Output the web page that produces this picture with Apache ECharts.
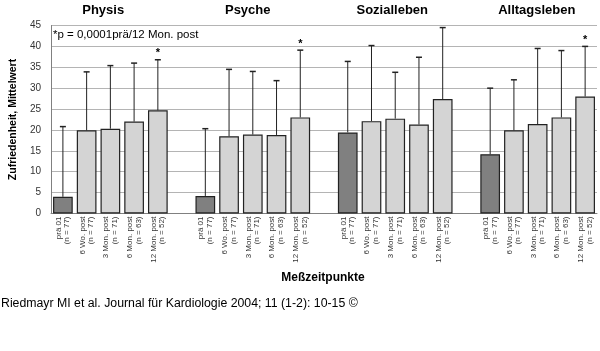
<!DOCTYPE html>
<html>
<head>
<meta charset="utf-8">
<script src="https://cdn.jsdelivr.net/npm/echarts@6/dist/echarts.min.js"></script>
<style>
  html, body { margin: 0; padding: 0; background: #fff; }
  #chart { width: 600px; height: 351px; }
</style>
</head>
<body>
<div id="chart"></div>
<script>
var groups = ['Physis', 'Psyche', 'Sozialleben', 'Alltagsleben'];
var timepoints = ['prä 01\n(n = 77)', '6 Wo. post\n(n = 77)', '3 Mon. post\n(n = 71)', '6 Mon. post\n(n = 63)', '12 Mon. post\n(n = 52)'];

// Mittelwerte je Gruppe
var physisMean = [4.0, 19.9, 20.3, 22.0, 24.7];
var psycheMean = [4.2, 18.5, 18.9, 18.8, 23.0];
var sozialMean = [19.4, 22.1, 22.7, 21.3, 27.4];
var alltagMean = [14.2, 19.9, 21.4, 23.0, 28.0];

// obere Fehlerbalken (Mittelwert + SD)
var physisTop = [20.8, 33.9, 35.4, 36.0, 36.8];
var psycheTop = [20.3, 34.5, 34.0, 31.8, 39.1];
var sozialTop = [36.4, 40.2, 33.8, 37.4, 44.5];
var alltagTop = [30.0, 32.0, 39.5, 39.0, 40.0];

// signifikant (*) markiert
var physisStar = [0, 0, 0, 0, 1];
var psycheStar = [0, 0, 0, 0, 1];
var sozialStar = [0, 0, 0, 0, 0];
var alltagStar = [0, 0, 0, 0, 1];

var yTicks = [0, 5, 10, 15, 20, 25, 30, 35, 40, 45];

var means = [physisMean, psycheMean, sozialMean, alltagMean];
var tops = [physisTop, psycheTop, sozialTop, alltagTop];
var stars = [physisStar, psycheStar, sozialStar, alltagStar];

var chart = echarts.init(document.getElementById('chart'));

/* ---------- build slots (5 bars per group, one empty slot between) ---------- */
var cats = [], barData = [], errData = [];
var groupCenter = [];
for (var g = 0; g < groups.length; g++) {
    if (g > 0) {
        cats.push('');
        barData.push('-');
    }
    var start = cats.length;
    for (var i = 0; i < timepoints.length; i++) {
        var idx = cats.length;
        cats.push(timepoints[i]);
        barData.push({
            value: means[g][i],
            itemStyle: { color: i === 0 ? '#808080' : '#d4d4d4' }
        });
        errData.push([idx, means[g][i], tops[g][i], stars[g][i]]);
    }
    groupCenter.push((start + cats.length - 1) / 2);
}

var gridLeft = 43, gridRight = 3, gridTop = 25.5, gridBottom = 137.5;
var slotW = (600 - gridLeft - gridRight) / cats.length;
var font = 'Arial, "Liberation Sans", sans-serif';

var titles = groups.map(function (name, k) {
    return {
        type: 'text',
        x: gridLeft + (groupCenter[k] + 0.5) * slotW,
        y: 4,
        style: {
            text: name,
            font: 'bold 13px ' + font,
            fill: '#000',
            textAlign: 'center'
        }
    };
});

option = {
    animation: false,
    backgroundColor: '#fff',
    grid: {
        left: gridLeft,
        right: gridRight,
        top: gridTop,
        bottom: gridBottom
    },
    xAxis: {
        type: 'category',
        data: cats,
        axisLine: { lineStyle: { color: '#808080', width: 1 } },
        axisTick: { show: false },
        axisLabel: {
            interval: 0,
            rotate: 90,
            margin: 3,
            fontSize: 8,
            lineHeight: 8.5,
            color: '#333',
            fontFamily: font
        }
    },
    yAxis: {
        type: 'value',
        min: 0,
        max: 45,
        interval: 5,
        name: 'Zufriedenheit, Mittelwert',
        nameLocation: 'middle',
        nameGap: 30,
        nameTextStyle: {
            fontSize: 10.5,
            fontWeight: 'bold',
            color: '#000',
            fontFamily: font
        },
        axisLine: { show: true, lineStyle: { color: '#808080' } },
        axisTick: { show: false },
        axisLabel: {
            fontSize: 10,
            color: '#333',
            margin: 10,
            fontFamily: font,
            formatter: function (v) { return yTicks.indexOf(v) >= 0 ? String(v) : ''; }
        },
        splitLine: { lineStyle: { color: '#b4b4b4', width: 1 } }
    },
    series: [
        {
            type: 'bar',
            data: barData,
            barCategoryGap: '17%',
            itemStyle: { borderColor: '#222', borderWidth: 1.2 }
        },
        {
            type: 'custom',
            data: errData,
            z: 5,
            renderItem: function (params, api) {
                var x = api.value(0);
                var p0 = api.coord([x, api.value(1)]);
                var p1 = api.coord([x, api.value(2)]);
                var kids = [
                    {
                        type: 'line',
                        shape: { x1: p0[0], y1: p0[1], x2: p1[0], y2: p1[1] },
                        style: { stroke: '#222', lineWidth: 1 }
                    },
                    {
                        type: 'line',
                        shape: { x1: p1[0] - 3, y1: p1[1], x2: p1[0] + 3, y2: p1[1] },
                        style: { stroke: '#222', lineWidth: 1.5 }
                    }
                ];
                if (api.value(3)) {
                    kids.push({
                        type: 'text',
                        style: {
                            text: '*',
                            x: p1[0],
                            y: p1[1] - 12,
                            textAlign: 'center',
                            font: 'bold 11px ' + font,
                            fill: '#000'
                        }
                    });
                }
                return { type: 'group', children: kids };
            }
        }
    ],
    graphic: titles.concat([
        {
            type: 'text',
            x: 53,
            y: 29,
            style: {
                text: '*p = 0,0001prä/12 Mon. post',
                font: '11.5px ' + font,
                fill: '#000'
            }
        },
        {
            type: 'text',
            x: 323,
            y: 272,
            style: {
                text: 'Meßzeitpunkte',
                font: 'bold 12px ' + font,
                fill: '#000',
                textAlign: 'center'
            }
        },
        {
            type: 'text',
            x: 1,
            y: 298,
            style: {
                text: 'Riedmayr MI et al. Journal für Kardiologie 2004; 11 (1-2): 10-15 ©',
                font: '12.3px ' + font,
                fill: '#000'
            }
        }
    ])
};

chart.setOption(option);
</script>
</body>
</html>
